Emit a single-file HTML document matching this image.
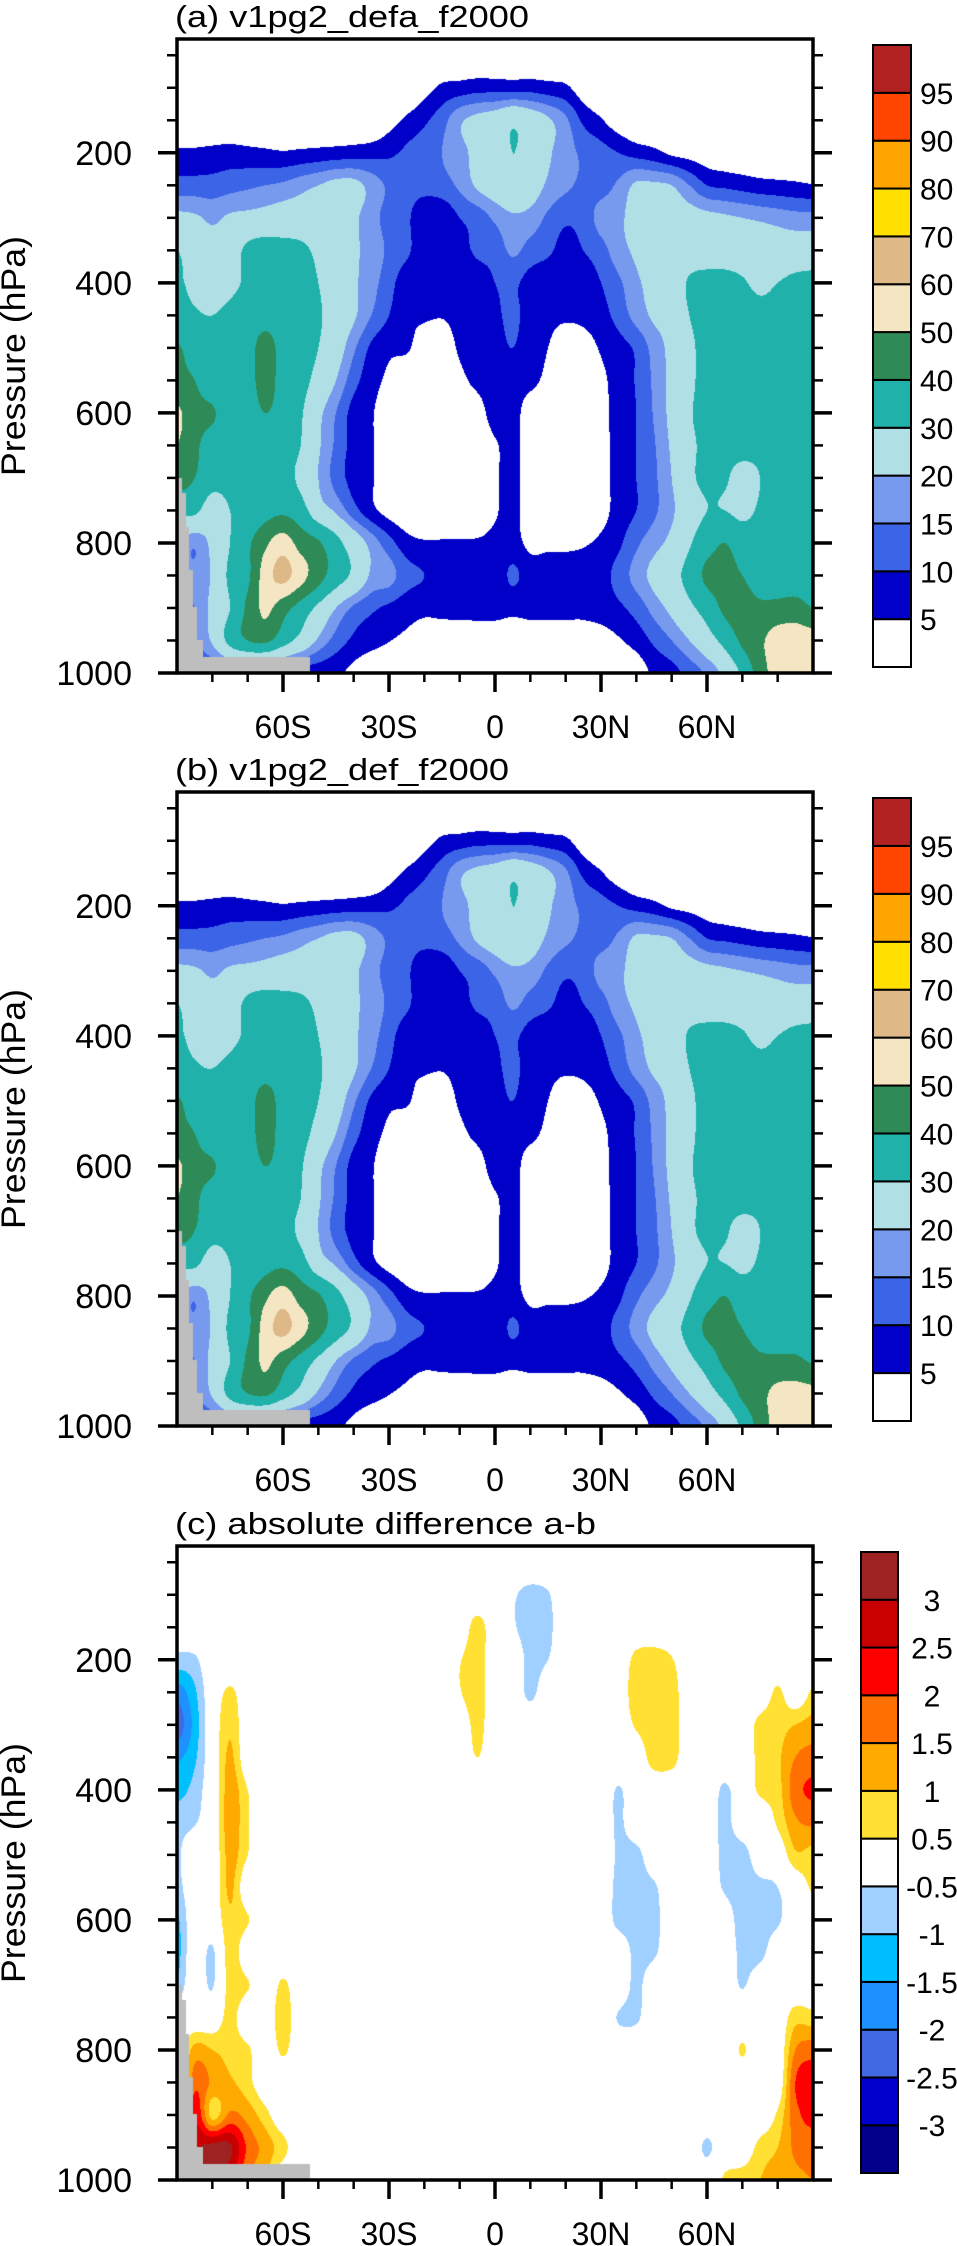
<!DOCTYPE html>
<html><head><meta charset="utf-8">
<style>
html,body{margin:0;padding:0;background:#fff;}
#page{position:relative;width:957px;height:2246px;overflow:hidden;background:#fff;}
canvas{position:absolute;}
svg{position:absolute;left:0;top:0;}
text{font-family:"Liberation Sans",Arial,sans-serif;fill:#000;}
</style></head>
<body>
<div id="page">
<canvas id="cva" width="636" height="634" style="left:177px;top:39px"></canvas>
<canvas id="cvb" width="636" height="634" style="left:177px;top:792px"></canvas>
<canvas id="cvc" width="636" height="634" style="left:177px;top:1546px"></canvas>
<svg id="ov" width="957" height="2246"></svg>
</div>
<script>
// ---------- data ----------
const lats = [-90,-85,-80,-75,-70,-65,-60,-55,-50,-45,-40,-35,-30,-25,-20,-15,-10,-5,0,5,10,15,20,25,30,35,40,45,50,55,60,65,70,75,80,85,90];
const pLevels = [50,100,150,200,250,300,350,400,450,500,550,600,650,700,750,800,850,900,950,1000];
const fieldA = [
[0,0,0,0,0,0,0,0,0,0,0,0,0,0,0,0,0,0,0,0,0,0,0,0,0,0,0,0,0,0,0,0,0,0,0,0,0],
[0,0,0,0,0,0,0,0,0,0,0,0,0,0,3,6,7,8,8,8,8,7,6,2,0,0,0,0,0,0,0,0,0,0,0,0,0],
[0,0,0,0,0,0,0,0,0,0,0,0,3,6,9,13,19,22,24,28,25,21,16,9,5.5,2,0,0,0,0,0,0,0,0,0,0,0],
[6,6,6.5,7,6.5,6,5.5,6,6.5,7,7.5,8,9,11,13,15,18,22,24,30,26,21,17,14,12,10,8,6.5,4,3,2,1,0.5,0,0,0,0],
[12,12,12,13,14,15,16,18,20,22,22,18,14,12,12,13,16,21,24,27,24,19,16,14,13,16,21,21,20,15,10,9,8,7,6.5,6,5.3],
[22,21,19,21,22,23,24,24,24,22,21,17,13,11,6,6,10,12,16,19,18,14,11,12,17,19,22,23,23,23,22,21,20,19,18,17,17],
[30,26,22,25,32,34,33,32,28,24,21,18,14,11,7,7,8,11,12,16,13,11,8,10,13,18,21,23,24,25,25,25,25,25,24,24,24],
[31,28,24,27,32,35,35,34,30,25,21,17,12,7,6.5,6.5,6,7,10,11,8,6.5,6.5,6.5,10,14,19,22,24,31,33,33,31,28,30,32,33],
[33,31,30,33,36,37,36,34,31,26,21,15,10,6,5.5,5.2,6,7,9,11,8,6,5.5,6,8,12,17,21,23,30,33,34,34,33,33,33,34],
[41,36,34,35,37,43,37,34,30,24,16,9,6,5.5,3,3,5.5,7,8,10,7,5,3,3,5.5,8,11,17,22,28,33,33,34,34,34,34,34],
[42,40,34,34,36,44,36,33,27,20,12,7,4,2,2,2,4,6,7,7,6,4,2,2,4,7,10.5,16,22,28,33,33,33,33,33,33,34],
[52,43,41,35,35,40,36,31,22,15,8,5.5,2,1,1,1,2,3,7,6.5,3,2,1,1,3.5,7,10,15.5,22,29,33,33,33,33,33,34,34],
[50,42,36,34,34,34,34,30,21,14,8,5.5,2,0,0,0,0,1,4.5,6,3,0,0,0,3,7,10,14.5,21,28,32,33,33,32,33,34,34],
[45,40,34,33,33,33,33,28,20,13,8,5.5,2,0,0,0,0,1,4.5,6,3,0,0,0,3,7,10,14,20,28,32,31,27,30,33,34,34],
[32,32,25,30,32,36,38,34,24,19,12,6.5,3,1,0,0,0,1,4.5,6,3,0,0,0,3,7,10,14,19,25,30,30,28,31,33,34,34],
[20,16,22,30,38,48,55,46,41,33,25,18,12,7,5.5,5.5,5.5,5.5,6,6.5,4,4,4,4.5,6,9,14,18,22,29,36,40,35,34,34,34,34],
[18,16,21,32,38,55,63,54,44,35,28,19,17,12,10,8,7,6,6,11,7,7,7,7,8,12,17,22,27,33,42,43,40,35,34,34,34],
[18,15,22,30,42,52,44,36,28,20,14,11,9,7,6,6,6,6,6,6,6,6,6,6,7,9,12,17,22,28,34,42,44,42,43,44,40],
[18,15,21,33,40,42,34,27,19,13,9,7,5.2,4,3,3,3,3,3,3,3,3,3,3,3,4.5,7,11,15,20,26,33,42,48,55,56,55],
[10,10,10,10,9,8,8,7,7,6,3.5,1,1,1,1,1,1,1,1,1,1,1,1,1,1,1,2,6,8,12,16,22,32,45,55,58,55]
];
const fieldB = [
[0,0,0,0,0,0,0,0,0,0,0,0,0,0,0,0,0,0,0,0,0,0,0,0,0,0,0,0,0,0,0,0,0,0,0,0,0],
[0,0,0,0,0,0,0,0,0,0,0,0,0,0,3,6,7,8,8,8,8,7,6,2,0,0,0,0,0,0,0,0,0,0,0,0,0],
[0,0,0,0,0,0,0,0,0,0,0,0,3,6,9,13,19,22,24,28,25,21,16,9,5.5,2,0,0,0,0,0,0,0,0,0,0,0],
[6,6,6.5,7,6.5,6,5.5,6,6.5,7,7.5,8,9,11,13,15,18,22,24,30,26,21,17,14,12,10,8,6.5,4,3,2,1,0.5,0,0,0,0],
[12,12,12,13,14,15,16,18,20,22,22,18,14,12,12,13,16,21,24,27,24,19,16,14,13,16,21,21,20,15,10,9,8,7,6.5,6,5.3],
[22,21,19,21,22,23,24,24,24,22,21,17,13,11,6,6,10,12,16,19,18,14,11,12,17,19,22,23,23,23,22,21,20,19,18,17,17],
[30,26,22,25,32,34,33,32,28,24,21,18,14,11,7,7,8,11,12,16,13,11,8,10,13,18,21,23,24,25,25,25,25,25,24,24,24],
[31,28,24,27,32,35,35,34,30,25,21,17,12,7,6.5,6.5,6,7,10,11,8,6.5,6.5,6.5,10,14,19,22,24,31,33,33,31,28,30,32,33],
[33,31,30,33,36,37,36,34,31,26,21,15,10,6,5.5,5.2,6,7,9,11,8,6,5.5,6,8,12,17,21,23,30,33,34,34,33,33,33,34],
[41,36,34,35,37,43,37,34,30,24,16,9,6,5.5,3,3,5.5,7,8,10,7,5,3,3,5.5,8,11,17,22,28,33,33,34,34,34,34,34],
[42,40,34,34,36,44,36,33,27,20,12,7,4,2,2,2,4,6,7,7,6,4,2,2,4,7,10.5,16,22,28,33,33,33,33,33,33,34],
[52,43,41,35,35,40,36,31,22,15,8,5.5,2,1,1,1,2,3,7,6.5,3,2,1,1,3.5,7,10,15.5,22,29,33,33,33,33,33,34,34],
[50,42,36,34,34,34,34,30,21,14,8,5.5,2,0,0,0,0,1,4.5,6,3,0,0,0,3,7,10,14.5,21,28,32,33,33,32,33,34,34],
[45,40,34,33,33,33,33,28,20,13,8,5.5,2,0,0,0,0,1,4.5,6,3,0,0,0,3,7,10,14,20,28,32,31,27,30,33,34,34],
[32,32,25,30,32,36,38,34,24,19,12,6.5,3,1,0,0,0,1,4.5,6,3,0,0,0,3,7,10,14,19,25,30,30,28,31,33,34,34],
[20,16,22,30,38,48,55,46,41,33,25,18,12,7,5.5,5.5,5.5,5.5,6,6.5,4,4,4,4.5,6,9,14,18,22,29,36,40,35,34,34,34,34],
[18,16,21,32,38,55,63,54,44,35,28,19,17,12,10,8,7,6,6,11,7,7,7,7,8,12,17,22,27,33,42,43,40,35,34,34,34],
[18,15,22,30,42,52,44,36,28,20,14,11,9,7,6,6,6,6,6,6,6,6,6,6,7,9,12,17,22,28,34,42,44,42,42,42,39],
[18,15,21,33,40,42,34,27,19,13,9,7,5.2,4,3,3,3,3,3,3,3,3,3,3,3,4.5,7,11,15,20,26,33,42,47,53,54,53],
[10,10,10,10,9,8,8,7,7,6,3.5,1,1,1,1,1,1,1,1,1,1,1,1,1,1,1,2,6,8,12,16,22,32,44,54,56,54]
];
// sparse difference values [lat, pressure, value]; unlisted grid points are 0
const diffPoints = [
[-90,200,-0.7],[-90,250,-1.8],[-90,300,-2.3],[-90,350,-1.6],[-90,400,-1.2],[-90,450,-0.7],[-90,500,-0.6],[-90,550,-0.7],[-90,600,-1.1],[-90,650,-1.2],[-90,700,-0.9],
[-85,200,-0.6],[-85,250,-1.1],[-85,300,-1.3],[-85,350,-1.1],[-85,400,-0.8],[-85,450,-0.55],[-80,650,-0.6],[-80,700,-0.55],
[-75,250,0.6],[-75,300,0.9],[-75,350,1.1],[-75,400,1.25],[-75,450,1.3],[-75,500,1.2],[-75,550,1.1],[-75,600,0.9],[-75,650,0.8],[-75,700,0.75],[-75,750,0.7],[-75,800,0.8],
[-70,400,0.5],[-70,450,0.55],[-70,500,0.5],[-70,600,0.55],[-70,700,0.55],[-70,800,0.6],
[-85,800,1.2],[-85,850,1.8],[-85,900,2.4],[-85,950,2.6],[-85,1000,2],[-80,800,1.0],[-80,850,1.4],[-80,900,0.8],[-80,950,3.2],[-80,1000,3],
[-75,850,1.1],[-75,900,1.6],[-75,950,3.1],[-75,1000,2.5],[-70,850,0.7],[-70,900,1.3],[-70,950,1.9],[-70,1000,1.5],[-65,900,0.7],[-65,950,1.3],[-65,1000,1],
[-60,700,0.6],[-60,750,0.8],[-60,800,0.6],[-60,950,0.7],[-65,250,-0.5],
[-5,150,0.75],[-5,200,0.8],[-5,250,0.85],[-5,300,0.7],[-5,350,0.5],[-10,200,0.45],[-10,250,0.45],
[5,100,-0.4],[10,100,-0.7],[10,150,-0.8],[10,200,-0.7],[10,250,-0.65],[15,100,-0.55],[15,150,-0.65],[15,200,-0.5],[5,150,-0.4],
[40,200,0.7],[40,250,0.9],[40,300,0.6],[45,200,0.8],[45,250,0.95],[45,300,0.9],[45,350,0.8],[50,200,0.55],[50,250,0.8],[50,300,0.8],[50,350,0.75],
[35,400,-0.55],[35,450,-0.6],[35,500,-0.6],[35,550,-0.7],[35,600,-0.7],[35,750,-0.55],[40,500,-0.7],[40,550,-0.8],[40,600,-0.8],[40,650,-0.7],[40,700,-0.65],[40,750,-0.6],[45,550,-0.6],[45,600,-0.7],[45,650,-0.6],
[65,400,-0.6],[65,450,-0.7],[65,500,-0.7],[65,550,-0.6],[70,500,-0.8],[70,550,-0.9],[70,600,-0.9],[70,650,-0.7],[70,700,-0.55],[75,550,-0.7],[75,600,-0.8],[75,650,-0.7],[80,550,-0.5],[80,600,-0.6],
[75,300,0.7],[75,350,0.7],[75,400,0.6],[80,250,0.6],[80,300,0.8],[80,350,0.9],[80,400,0.8],[80,450,0.6],
[85,300,1.0],[85,350,1.5],[85,400,1.8],[85,450,1.4],[85,500,0.9],[90,250,0.6],[90,300,1.2],[90,350,1.7],[90,400,2.1],[90,450,1.6],[90,500,0.8],[90,550,0.6],
[85,750,0.8],[85,800,1.5],[85,850,2.0],[85,900,1.8],[85,950,1.6],[85,1000,1.4],[90,750,0.7],[90,800,1.8],[90,850,2.3],[90,900,2.2],[90,950,1.7],[90,1000,1.5],
[80,900,0.6],[80,950,1.0],[80,1000,1.2],[75,950,0.7],[75,1000,1.0],[70,1000,0.8],[65,1000,0.6],[70,800,0.55],[60,950,-0.6]
];
const levelsAB = [5,10,15,20,30,40,50,60,70,80,90,95];
const levelLabelsAB = ['5','10','15','20','30','40','50','60','70','80','90','95'];
const colorsAB = ['#ffffff','#0000c8','#3c64e6','#7799ee','#b0e0e6','#20b2aa','#2e8b57','#f5e6c3','#deb887','#ffe000','#ffa500','#ff4500','#b22222'];
const levelsC = [-3,-2.5,-2,-1.5,-1,-0.5,0.5,1,1.5,2,2.5,3];
const levelLabelsC = ['-3','-2.5','-2','-1.5','-1','-0.5','0.5','1','1.5','2','2.5','3'];
const colorsC = ['#00008b','#0000cd','#4169e1','#1e90ff','#00bfff','#a0d0ff','#ffffff','#ffe033','#ffaa00','#ff7000','#ff0000','#c80000','#9e2222'];
const latTicks = [-60,-30,0,30,60];
const latTickLabels = ['60S','30S','0','30N','60N'];
const pTicks = [200,400,600,800,1000];
const pTickLabels = ['200','400','600','800','1000'];
const maskEdges = [-90,-88.7,-87.5,-86.6,-85.5,-84.3,-82.6,-52.4];
const maskTop = [700,723,775,842,898,950,975];

// ---------- geometry ----------
const X0 = 177, W = 636, H = 634, P_TOP = 25, P_BOT = 1000;
const panels = [
  {id:'a', y0:39, canvas:'cva', field:fieldA, levels:levelsAB, colors:colorsAB, labels:levelLabelsAB, title:'(a) v1pg2_defa_f2000', titleY:27, titleLen:354, cb:{x:873,y:45,w:38,h:622}, cbMode:'left'},
  {id:'b', y0:792, canvas:'cvb', field:fieldB, levels:levelsAB, colors:colorsAB, labels:levelLabelsAB, title:'(b) v1pg2_def_f2000', titleY:780, titleLen:334, cb:{x:873,y:798,w:38,h:623}, cbMode:'left'},
  {id:'c', y0:1546, canvas:'cvc', field:null, levels:levelsC, colors:colorsC, labels:levelLabelsC, title:'(c) absolute difference a-b', titleY:1534, titleLen:421, cb:{x:861,y:1552,w:37,h:621}, cbMode:'center'}
];
function latToX(lat){ return X0 + (lat+90)/180*W; }
function pToY(panel,p){ return panel.y0 + (p-P_TOP)/(P_BOT-P_TOP)*H; }

const fieldC = pLevels.map(()=>lats.map(()=>0));
diffPoints.forEach(d=>{ const i=lats.indexOf(d[0]), j=pLevels.indexOf(d[1]); if(i>=0&&j>=0) fieldC[j][i]=d[2]; });
panels[2].field = fieldC;

function hexRgb(h){ return [parseInt(h.substr(1,2),16),parseInt(h.substr(3,2),16),parseInt(h.substr(5,2),16)]; }
function cr(a,b,c,d,t){ return 0.5*(2*b+(-a+c)*t+(2*a-5*b+4*c-d)*t*t+(-a+3*b-3*c+d)*t*t*t); }
function clampI(i,n){ return i<0?0:(i>n-1?n-1:i); }
function sample(f,fi,fj){
  const nI=lats.length, nJ=pLevels.length;
  const i=Math.floor(fi), j=Math.floor(fj), t=fi-i, u=fj-j;
  const rows=[];
  for(let m=-1;m<=2;m++){
    const r=f[clampI(j+m,nJ)];
    rows.push(cr(r[clampI(i-1,nI)],r[clampI(i,nI)],r[clampI(i+1,nI)],r[clampI(i+2,nI)],t));
  }
  return cr(rows[0],rows[1],rows[2],rows[3],u);
}
function maskP(lat){
  for(let k=0;k<maskTop.length;k++){ if(lat>=maskEdges[k] && lat<maskEdges[k+1]) return maskTop[k]; }
  return Infinity;
}
panels.forEach(pn=>{
  const cv=document.getElementById(pn.canvas);
  const ctx=cv.getContext('2d');
  const img=ctx.createImageData(W,H);
  const rgb=pn.colors.map(hexRgb);
  const dLat=lats[1]-lats[0], dP=pLevels[1]-pLevels[0];
  for(let y=0;y<H;y++){
    const p=P_TOP+(y+0.5)/H*(P_BOT-P_TOP);
    let fj=(p-pLevels[0])/dP; if(fj<0) fj=0; if(fj>pLevels.length-1) fj=pLevels.length-1;
    for(let x=0;x<W;x++){
      const lat=-90+(x+0.5)/W*180;
      const fi=(lat-lats[0])/dLat;
      let c;
      if(p>=maskP(lat)) c=[190,190,190];
      else{
        const v=sample(pn.field,fi,fj);
        let k=0; while(k<pn.levels.length && v>=pn.levels[k]) k++;
        c=rgb[k];
      }
      const o=(y*W+x)*4; img.data[o]=c[0]; img.data[o+1]=c[1]; img.data[o+2]=c[2]; img.data[o+3]=255;
    }
  }
  ctx.putImageData(img,0,0);
});

const NS='http://www.w3.org/2000/svg';
const svg=document.getElementById('ov');
function mk(tag,attrs,parent){ const e=document.createElementNS(NS,tag); for(const k in attrs) e.setAttribute(k,attrs[k]); (parent||svg).appendChild(e); return e; }
panels.forEach(pn=>{
  const g=mk('g',{});
  
  
  const yb=pToY(pn,1000), yt=pn.y0;
  const t=mk('text',{x:175,y:pn.titleY,'font-size':31,textLength:pn.titleLen,lengthAdjust:'spacingAndGlyphs'},g);
  t.textContent=pn.title;
  
  
  const cy=yt+H/2;
  const yt2=mk('text',{x:25,y:cy,'font-size':34,'text-anchor':'middle',transform:'rotate(-90 25 '+cy+')',textLength:240,lengthAdjust:'spacingAndGlyphs'},g);
  yt2.textContent='Pressure (hPa)';
  
  
  for(let p=50;p<=1000;p+=50){
    const y=pToY(pn,p); const major=pTicks.indexOf(p)>=0;
    const len=major?19:10;
    const l1=mk('line',{x1:X0-len,y1:y,x2:X0,y2:y,stroke:'#000','stroke-width':major?3.5:2.5},g);
    
    
    const l2=mk('line',{x1:X0+W,y1:y,x2:X0+W+len,y2:y,stroke:'#000','stroke-width':major?3.5:2.5},g);
    
    
  }
  pTicks.forEach((p,k)=>{
    const tx=mk('text',{x:132,y:pToY(pn,p)+12,'font-size':34,'text-anchor':'end'},g);
    tx.textContent=pTickLabels[k];
    
    
  });
  for(let lat=-80;lat<=80;lat+=10){
    const x=latToX(lat); const major=latTicks.indexOf(lat)>=0;
    const l=mk('line',{x1:x,y1:yb,x2:x,y2:yb+(major?19:9),stroke:'#000','stroke-width':major?3.5:2.5},g);
    
    
  }
  latTicks.forEach((lat,k)=>{
    const tx=mk('text',{x:latToX(lat),y:yb+65,'font-size':32,'text-anchor':'middle'},g);
    tx.textContent=latTickLabels[k];
    
    
  });
  const fr=mk('rect',{x:X0,y:yt,width:W,height:H,fill:'none',stroke:'#000','stroke-width':3.5},g);
  
  
  const cb=pn.cb, n=pn.colors.length, bh=cb.h/n;
  const cg=mk('g',{},g);
  
  
  pn.colors.forEach((col,k)=>{
    const r=mk('rect',{x:cb.x,y:cb.y+cb.h-(k+1)*bh,width:cb.w,height:bh,fill:col,stroke:'#000','stroke-width':2},cg);
    
    
  });
  pn.labels.forEach((lb,k)=>{
    const y=cb.y+cb.h-(k+1)*bh;
    const tx=pn.cbMode==='left'
      ? mk('text',{x:cb.x+47,y:y+11,'font-size':30},cg)
      : mk('text',{x:932,y:y+11,'font-size':30,'text-anchor':'middle'},cg);
    tx.textContent=lb;
    
    
  });
});
</script>
</body></html>
